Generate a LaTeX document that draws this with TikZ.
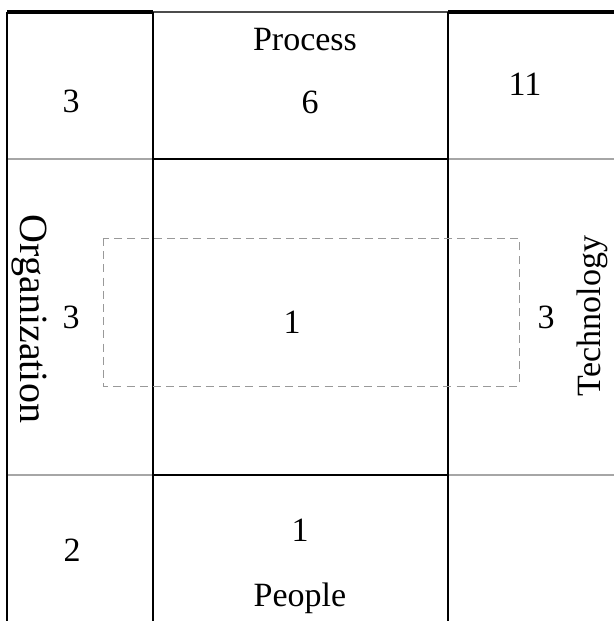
\documentclass[tikz,border=0pt]{standalone}
\usepackage{fontspec}
\setmainfont{Liberation Serif}
\usepackage{tikz}
\usetikzlibrary{positioning,calc}

\begin{document}
\begin{tikzpicture}[x=0.5pt, y=-0.5pt,
    cell/.style={font=\fontsize{17}{20}\selectfont, inner sep=0pt},
    side/.style={font=\fontsize{20}{24}\selectfont, inner sep=0pt},
    rule/.style={black, line width=0.8pt},
    softrule/.style={gray!70, line width=0.6pt},
    toprule/.style={black, line width=1.6pt},
    focus/.style={gray!80, dashed, dash pattern=on 4pt off 2.6pt, line width=0.5pt}
]
    \useasboundingbox (0,0) rectangle (614,621);

    % Top border
    \draw[toprule] (7,12) -- (153,12);
    \draw[rule, gray!60!black] (153,12) -- (448,12);
    \draw[toprule] (448,12) -- (614,12);

    % Horizontal rules
    \draw[softrule] (7,159) -- (153,159);
    \draw[rule] (153,159) -- (448,159);
    \draw[softrule] (448,159) -- (614,159);
    \draw[softrule] (7,475) -- (153,475);
    \draw[rule] (153,475) -- (448,475);
    \draw[softrule] (448,475) -- (614,475);

    % Vertical rules
    \draw[rule] (7,12) -- (7,621);
    \draw[rule] (153,12) -- (153,621);
    \draw[rule] (448,12) -- (448,621);

    % Dashed box
    \draw[focus] (103,238) rectangle (519,386);

    % Top row
    \node[cell] (orgtop) at (71,101) {3};
    \node[cell] (process) at (305,40) {Process};
    \node[cell] (proc) at (310,102) {6};
    \node[cell] (techtop) at (525,84) {11};

    % Middle row
    \node[side, rotate=-90] (organization) at (29,319) {Organization};
    \node[cell] (orgmid) at (71,317) {3};
    \node[cell] (centre) at (292,322) {1};
    \node[cell] (techmid) at (546,317) {3};
    \node[cell, rotate=90] (technology) at (592,316) {Technology};

    % Bottom row
    \node[cell] (orgbot) at (72,550) {2};
    \node[cell] (peop) at (300,530) {1};
    \node[cell, anchor=base] (people) at (300,606) {People};
\end{tikzpicture}
\end{document}
